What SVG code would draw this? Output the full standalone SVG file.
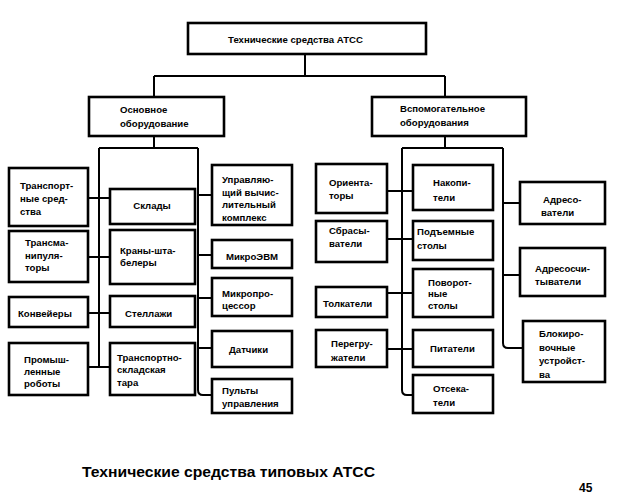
<svg xmlns="http://www.w3.org/2000/svg" width="622" height="496" viewBox="0 0 622 496">
<style>
.b{fill:#fff;stroke:#000;stroke-width:2.6}
.t{font-family:"Liberation Sans",Arial,sans-serif;font-size:9.6px;font-weight:bold;fill:#000}
.c{text-anchor:middle}
.l{fill:none;stroke:#000;stroke-width:2}
.cap{font-family:"Liberation Sans",Arial,sans-serif;font-size:15px;font-weight:bold;fill:#000}
</style>
<rect width="622" height="496" fill="#fff"/>
<g id="connectors">
<path class="l" d="M305 54V76M154 76H445M154 76V97M445 76V97"/>
<path class="l" d="M154 136V148M99 148H198M99 148V367M198 148V390Q198 395 203 395H212"/>
<path class="l" d="M88 198H110M88 257H110M88 313H110M88 367H110"/>
<path class="l" d="M198 195H212M198 255H212M198 298H212M198 348H212"/>
<path class="l" d="M445 136V148M402 148H503M402 148V390Q402 395 407 395H413M503 148V343Q503 348 508 348H523"/>
<path class="l" d="M387 191H413M387 239H413M387 293H413M387 349H413"/>
<path class="l" d="M503 203H520M503 275H520"/>
</g>
<g id="root"><rect class="b" x="188" y="23" width="238" height="31"/><text class="t" x="228" y="43">Технические средства  АТСС</text></g>
<g id="main"><rect class="b" x="89" y="97" width="135" height="39"/><text class="t" x="120" y="113">Основное</text><text class="t" x="120" y="127">оборудование</text></g>
<g id="aux"><rect class="b" x="372" y="97" width="154" height="39"/><text class="t" x="400" y="112">Вспомогательное</text><text class="t" x="400" y="126">оборудования</text></g>

<g id="n-transport"><rect class="b" x="9" y="168" width="79" height="58"/><text class="t" x="20" y="189">Транспорт-</text><text class="t" x="20" y="202">ные сред-</text><text class="t" x="20" y="215">ства</text></g>
<g id="n-transman"><rect class="b" x="9" y="231" width="79" height="51"/><text class="t" x="25" y="246">Трансма-</text><text class="t" x="25" y="259">нипуля-</text><text class="t" x="25" y="271">торы</text></g>
<g id="n-konv"><rect class="b" x="9" y="297" width="79" height="30"/><text class="t" x="18" y="317">Конвейеры</text></g>
<g id="n-robots"><rect class="b" x="9" y="343" width="79" height="52"/><text class="t" x="24" y="363">Промыш-</text><text class="t" x="24" y="375">ленные</text><text class="t" x="24" y="387">роботы</text></g>

<g id="n-sklady"><rect class="b" x="110" y="189" width="85" height="35"/><text class="t c" x="152" y="209">Склады</text></g>
<g id="n-krany"><rect class="b" x="110" y="230" width="85" height="54"/><text class="t" x="120" y="254">Краны-шта-</text><text class="t" x="120" y="266">белеры</text></g>
<g id="n-stell"><rect class="b" x="110" y="296" width="85" height="31"/><text class="t" x="125" y="317">Стеллажи</text></g>
<g id="n-tara"><rect class="b" x="110" y="343" width="85" height="52"/><text class="t" x="117" y="361">Транспортно-</text><text class="t" x="117" y="373">складская</text><text class="t" x="117" y="386">тара</text></g>

<g id="n-uvk"><rect class="b" x="212" y="165" width="80" height="60"/><text class="t" x="222" y="183">Управляю-</text><text class="t" x="222" y="196">щий вычис-</text><text class="t" x="222" y="208">лительный</text><text class="t" x="222" y="221">комплекс</text></g>
<g id="n-evm"><rect class="b" x="212" y="240" width="80" height="28"/><text class="t c" x="252" y="260">МикроЭВМ</text></g>
<g id="n-mp"><rect class="b" x="212" y="278" width="80" height="38"/><text class="t" x="222" y="297">Микропро-</text><text class="t" x="222" y="309">цессор</text></g>
<g id="n-dat"><rect class="b" x="212" y="331" width="80" height="36"/><text class="t" x="229" y="353">Датчики</text></g>
<g id="n-pult"><rect class="b" x="212" y="379" width="80" height="34"/><text class="t" x="222" y="394">Пульты</text><text class="t" x="222" y="407">управления</text></g>

<g id="n-orient"><rect class="b" x="316" y="164" width="71" height="49"/><text class="t" x="329" y="186">Ориента-</text><text class="t" x="329" y="199">торы</text></g>
<g id="n-sbros"><rect class="b" x="316" y="221" width="71" height="41"/><text class="t" x="329" y="234">Сбрасы-</text><text class="t" x="329" y="247">ватели</text></g>
<g id="n-tolk"><rect class="b" x="316" y="287" width="71" height="30"/><text class="t" x="323" y="307">Толкатели</text></g>
<g id="n-peregr"><rect class="b" x="316" y="330" width="71" height="37"/><text class="t" x="331" y="347">Перегру-</text><text class="t" x="331" y="361">жатели</text></g>

<g id="n-nakop"><rect class="b" x="413" y="165" width="80" height="45"/><text class="t" x="433" y="186">Накопи-</text><text class="t" x="433" y="201">тели</text></g>
<g id="n-podem"><rect class="b" x="413" y="221" width="80" height="39"/><text class="t" x="417" y="235">Подъемные</text><text class="t" x="417" y="249">столы</text></g>
<g id="n-povor"><rect class="b" x="413" y="269" width="80" height="48"/><text class="t" x="428" y="286">Поворот-</text><text class="t" x="428" y="297">ные</text><text class="t" x="428" y="309">столы</text></g>
<g id="n-pitat"><rect class="b" x="413" y="330" width="80" height="37"/><text class="t" x="430" y="352">Питатели</text></g>
<g id="n-otsek"><rect class="b" x="413" y="375" width="80" height="38"/><text class="t" x="433" y="392">Отсека-</text><text class="t" x="433" y="406">тели</text></g>

<g id="n-adres"><rect class="b" x="520" y="182" width="85" height="42"/><text class="t" x="543" y="203">Адресо-</text><text class="t" x="541" y="216">ватели</text></g>
<g id="n-adrsch"><rect class="b" x="520" y="248" width="85" height="48"/><text class="t" x="535" y="272">Адресосчи-</text><text class="t" x="535" y="285">тыватели</text></g>
<g id="n-block"><rect class="b" x="523" y="321" width="82" height="61"/><text class="t" x="539" y="337">Блокиро-</text><text class="t" x="539" y="351">вочные</text><text class="t" x="539" y="364">устройст-</text><text class="t" x="539" y="378">ва</text></g>

<text class="cap" x="82" y="477" textLength="293" lengthAdjust="spacingAndGlyphs">Технические средства типовых АТСС</text>
<text class="cap" x="579" y="492" style="font-size:12px">45</text>
</svg>
